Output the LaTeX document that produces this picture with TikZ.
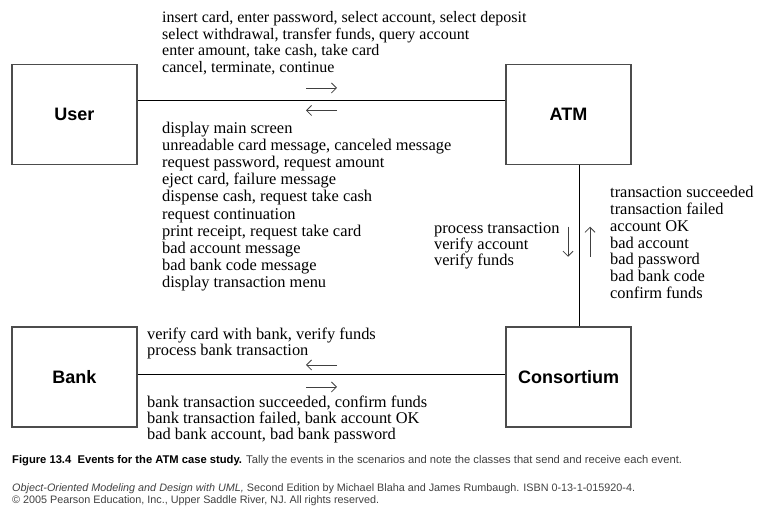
\documentclass[tikz,border=0pt]{standalone}
\usepackage{fontspec}
\setmainfont{Liberation Serif}
\newfontfamily\boxfont{Liberation Sans}
\usetikzlibrary{arrows.meta}

\tikzstyle{actor} = [rectangle, minimum width=125pt, minimum height=100pt, text centered, draw=black!70, line width=1.1pt, fill=white, font=\boxfont\fontsize{18}{20}\selectfont\bfseries]
\tikzstyle{link} = [line width=0.9pt, black]
\tikzstyle{evt} = [line width=0.8pt, black!75, -{Straight Barb[length=5pt,width=10pt]}]
\tikzstyle{events} = [anchor=base west, align=left, inner sep=0pt, font=\fontsize{16.4}{16.7}\selectfont]
\tikzstyle{note} = [anchor=base west, align=left, inner sep=0pt, font=\boxfont\fontsize{10.8}{12.5}\selectfont, text=black!75]

\begin{document}
\begin{tikzpicture}[x=1pt, y=1pt, node distance=494pt]
  \useasboundingbox (0,0) rectangle (768,510);
  \node (usr) [actor] at (74.5,395.5) {User};
  \node (atm) [actor, right of=usr] {ATM};
  \node (bnk) [actor, below of=usr, node distance=262.5pt] {Bank};
  \node (con) [actor, right of=bnk] {Consortium};

  \draw [link] ([yshift=14pt]usr.east) -- coordinate[midway] (ua) ([yshift=14pt]atm.west);
  \draw [link] ([xshift=10.5pt]atm.south) -- coordinate[midway] (ac) ([xshift=10.5pt]con.north);
  \draw [link] ([yshift=2.5pt]bnk.east) -- coordinate[midway] (bc) ([yshift=2.5pt]con.west);

  % direction markers
  \draw [evt] ([shift={(-15.5pt,12.5pt)}]ua) -- ([shift={(15.5pt,12.5pt)}]ua);
  \draw [evt] ([shift={(15.5pt,-10pt)}]ua) -- ([shift={(-15.5pt,-10pt)}]ua);
  \draw [evt] ([shift={(-11pt,19pt)}]ac) -- ([shift={(-11pt,-11pt)}]ac);
  \draw [evt] ([shift={(11pt,-11pt)}]ac) -- ([shift={(11pt,19pt)}]ac);
  \draw [evt] ([shift={(15.5pt,9.5pt)}]bc) -- ([shift={(-15.5pt,9.5pt)}]bc);
  \draw [evt] ([shift={(-15.5pt,-12.5pt)}]bc) -- ([shift={(15.5pt,-12.5pt)}]bc);

  % event lists (placed by the baseline of their last line)
  \node (uae) [events, font=\fontsize{16}{16.7}\selectfont] at (162,437.4) {insert card, enter password, select account, select deposit\\select withdrawal, transfer funds, query account\\enter amount, take cash, take card\\cancel, terminate, continue};
  \node (aue) [events, font=\fontsize{16.4}{17.2}\selectfont] at (162,222) {display main screen\\unreadable card message, canceled message\\request password, request amount\\eject card, failure message\\dispense cash, request take cash\\request continuation\\print receipt, request take card\\bad account message\\bad bank code message\\display transaction menu};
  \node (ace) [events, font=\fontsize{16.4}{15}\selectfont] at (434,244) {process transaction\\verify account\\verify funds};
  \node (cae) [events] at (610,211.8) {transaction succeeded\\transaction failed\\account OK\\bad account\\bad password\\bad bank code\\confirm funds};
  \node (cbe) [events, font=\fontsize{16.4}{16.5}\selectfont] at (147,154) {verify card with bank, verify funds\\process bank transaction};
  \node (bce) [events, font=\fontsize{16.4}{16}\selectfont] at (147,70) {bank transaction succeeded, confirm funds\\bank transaction failed, bank account OK\\bad bank account, bad bank password};

  \node (cap) [note, font=\boxfont\fontsize{11.2}{12.5}\selectfont] at (12,46) {\textbf{\color{black}Figure 13.4\ \ Events for the ATM case study.} Tally the events in the scenarios and note the classes that send and receive each event.};
  \node (src) [note] at (12,6) {\textit{Object-Oriented Modeling and Design with UML,} Second Edition by Michael Blaha and James Rumbaugh. ISBN 0-13-1-015920-4.\\\textcopyright{} 2005 Pearson Education, Inc., Upper Saddle River, NJ. All rights reserved.};
\end{tikzpicture}
\end{document}
